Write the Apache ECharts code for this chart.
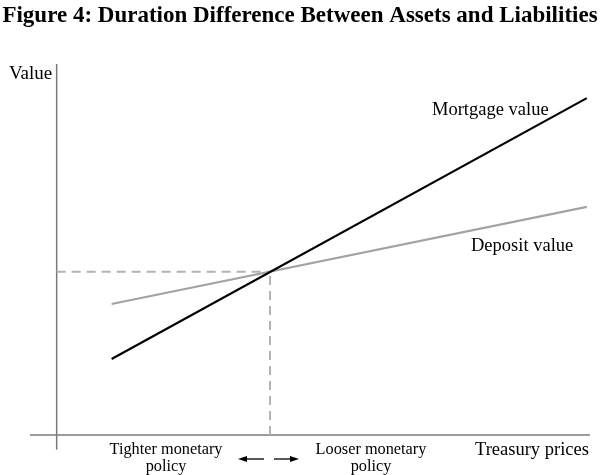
<!DOCTYPE html>
<html><head><meta charset="utf-8">
<script src="https://cdn.jsdelivr.net/npm/echarts@6/dist/echarts.min.js"></script>
<style>html,body{margin:0;padding:0;background:#fff}#c{width:600px;height:475px}</style>
</head><body><div id="c"></div>
<script>
var seriesNames = ['Mortgage value', 'Deposit value'];
var mortgageValues = [[10.3, 20.5], [99.4, 90.8]];
var depositValues = [[10.3, 35.3], [99.4, 61.5]];
var crossingPoint = [40, 44];
var xAxisLabel = 'Treasury prices';
var yAxisLabel = 'Value';
var leftLabel = ['Tighter monetary', 'policy'];
var rightLabel = ['Looser monetary', 'policy'];
var xRange = [-5, 100];
var yRange = [-4, 100];

var serif = '"Liberation Serif", "DejaVu Serif", serif';
var chart = echarts.init(document.getElementById('c'));
var ax = {
  type: 'value', axisLine: {show: false}, axisTick: {show: false},
  axisLabel: {show: false}, splitLine: {show: false}
};
function seg(data, color, width, type) {
  return {type: 'line', data: data, symbol: 'none', silent: true, animation: false,
    lineStyle: {color: color, width: width, type: type || 'solid'}};
}
function txt(x, y, s, size, align) {
  return {type: 'text', x: x, y: y, style: {text: s, font: size + 'px ' + serif, fill: '#000',
    align: align || 'left', verticalAlign: 'middle', lineHeight: 17}};
}
chart.setOption({
  animation: false,
  title: {text: 'Figure 4: Duration Difference Between Assets and Liabilities',
    left: 'center', top: 0,
    textStyle: {fontFamily: serif, fontWeight: 'bold', fontSize: 23, color: '#000'}},
  grid: {left: 30, right: 10, top: 64, bottom: 25.2},
  xAxis: Object.assign({min: xRange[0], max: xRange[1]}, ax),
  yAxis: Object.assign({min: yRange[0], max: yRange[1]}, ax),
  series: [
    seg([[xRange[0], 0], [xRange[1], 0]], '#7a7a7a', 1.5),
    seg([[0, yRange[0]], [0, yRange[1]]], '#7a7a7a', 1.5),
    seg([[0, crossingPoint[1]], crossingPoint], '#b3b3b3', 2, [9, 6]),
    seg([[crossingPoint[0], 0], crossingPoint], '#b3b3b3', 2, [9, 6]),
    Object.assign(seg(depositValues, '#a3a3a3', 2.2), {name: seriesNames[1]}),
    Object.assign(seg(mortgageValues, '#000', 2.2), {name: seriesNames[0]})
  ],
  graphic: [
    txt(9, 74, yAxisLabel, 19),
    txt(432, 110, seriesNames[0], 18.5),
    txt(471, 246, seriesNames[1], 18.5),
    txt(475, 450, xAxisLabel, 18.5),
    txt(166, 458, leftLabel.join('\n'), 16.3, 'center'),
    txt(371, 458, rightLabel.join('\n'), 16.3, 'center'),
    {type: 'line', shape: {x1: 245, y1: 459, x2: 264, y2: 459}, style: {stroke: '#000', lineWidth: 1.3}},
    {type: 'polygon', shape: {points: [[238, 459], [247, 456], [247, 462]]}, style: {fill: '#000'}},
    {type: 'line', shape: {x1: 274, y1: 459, x2: 292, y2: 459}, style: {stroke: '#000', lineWidth: 1.3}},
    {type: 'polygon', shape: {points: [[299, 459], [290, 456], [290, 462]]}, style: {fill: '#000'}}
  ]
});
</script></body></html>
